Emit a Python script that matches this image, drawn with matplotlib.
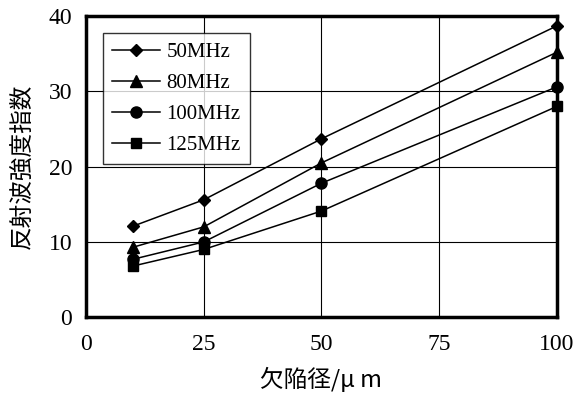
import matplotlib
matplotlib.use("Agg")
import matplotlib.pyplot as plt

x = [10, 25, 50, 100]
labels = ["50MHz", "80MHz", "100MHz", "125MHz"]
markers = ["D", "^", "o", "s"]
y50 = [12.1, 15.6, 23.7, 38.7]
y80 = [9.3, 12.0, 20.5, 35.2]
y100 = [7.7, 10.0, 17.8, 30.6]
y125 = [6.8, 9.0, 14.1, 28.0]
series = [y50, y80, y100, y125]
xticks = [0, 25, 50, 75, 100]
yticks = [0, 10, 20, 30, 40]

serif = ["Liberation Serif", "DejaVu Serif"]
cjk = ["Noto Sans CJK JP", "DejaVu Sans"]

fig = plt.figure(figsize=(5.74, 3.94), dpi=100)
ax = fig.add_axes([0.150, 0.195, 0.820, 0.764])
sizes = [6.5, 8, 8, 7.5]
for ys, lab, m, s in zip(series, labels, markers, sizes):
    ax.plot(x, ys, color="black", lw=1.1, marker=m, ms=s, label=lab, clip_on=False, zorder=3)

ax.set_xlim(0, 100)
ax.set_ylim(0, 40)
ax.set_xticks(xticks)
ax.set_yticks(yticks)
ax.grid(True, color="black", lw=0.8)
ax.tick_params(length=0, labelsize=17)
ax.tick_params(axis="x", pad=12)
ax.tick_params(axis="y", pad=10)
for t in ax.get_xticklabels() + ax.get_yticklabels():
    t.set_family(serif)
for sp in ax.spines.values():
    sp.set_linewidth(2.5)

ax.set_xlabel("欠陥径/μ m", family=cjk, fontsize=17)
ax.xaxis.set_label_coords(0.5, -0.165)
ax.set_ylabel("反射波強度指数", family=cjk, fontsize=17)
ax.yaxis.set_label_coords(-0.11, 0.5)

leg = ax.legend(loc="upper left", bbox_to_anchor=(0.036, 0.944), frameon=True, fancybox=False,
                edgecolor="black", handlelength=2.3, prop={"family": serif, "size": 15},
                borderpad=0.45, labelspacing=0.55, handletextpad=0.3, borderaxespad=0)
leg.get_frame().set_linewidth(1.0)

fig.savefig("out.png", dpi=100)
